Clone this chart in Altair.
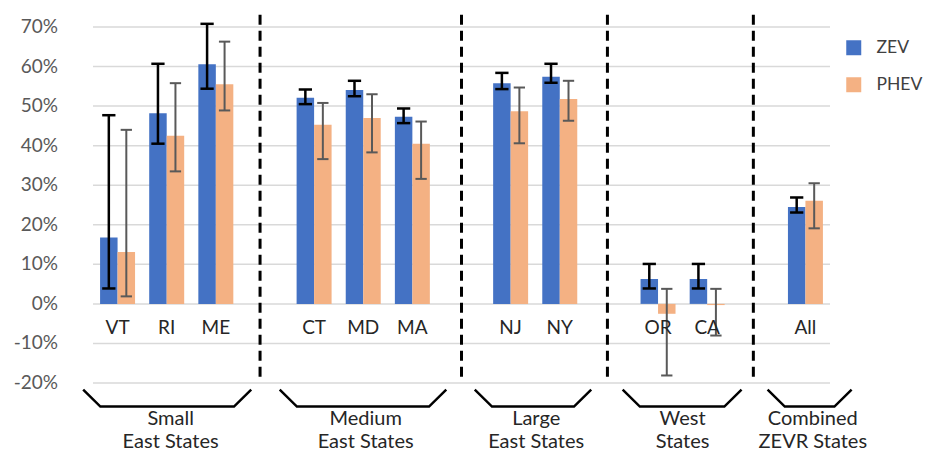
import altair as alt
import pandas as pd

# ---- data ----
states = ["VT", "RI", "ME", "CT", "MD", "MA", "NJ", "NY", "OR", "CA", "All"]
slots = [0, 1, 2, 4, 5, 6, 8, 9, 11, 12, 14]
divider_slots = [2.9, 7.0, 9.97, 12.94]

zev = [0.168, 0.482, 0.606, 0.521, 0.541, 0.473, 0.558, 0.574, 0.063, 0.063, 0.245]
zev_lo = [0.039, 0.405, 0.544, 0.505, 0.525, 0.457, 0.543, 0.559, 0.039, 0.039, 0.231]
zev_hi = [0.477, 0.607, 0.708, 0.542, 0.564, 0.494, 0.584, 0.607, 0.101, 0.101, 0.269]

phev = [0.131, 0.425, 0.555, 0.453, 0.470, 0.405, 0.487, 0.518, -0.025, -0.003, 0.261]
phev_lo = [0.019, 0.335, 0.489, 0.366, 0.383, 0.316, 0.406, 0.463, -0.181, -0.080, 0.191]
phev_hi = [0.440, 0.558, 0.663, 0.508, 0.530, 0.461, 0.547, 0.564, 0.038, 0.038, 0.305]

groups_line1 = ["Small", "Medium", "Large", "West", "Combined"]
groups_line2 = ["East States", "East States", "East States", "States", "ZEVR States"]
bracket_left = [-0.70, 3.30, 7.27, 10.28, 13.23]
bracket_right = [2.72, 6.69, 9.64, 12.70, 14.94]
label_center = [1.08, 5.05, 8.52, 11.5, 14.15]

y_ticks = [-0.2, -0.1, 0.0, 0.1, 0.2, 0.3, 0.4, 0.5, 0.6, 0.7]

# ---- tables ----
rows = []
for i, s in enumerate(states):
    rows.append(dict(state=s, slot=slots[i], series="ZEV", value=zev[i], lo=zev_lo[i], hi=zev_hi[i]))
    rows.append(dict(state=s, slot=slots[i], series="PHEV", value=phev[i], lo=phev_lo[i], hi=phev_hi[i]))
df = pd.DataFrame(rows)
lab_df = pd.DataFrame(dict(state=states, slot=slots))
gap_df = pd.DataFrame(dict(slot=divider_slots))
tick_df = pd.DataFrame(dict(v=y_ticks))

SLANT = 0.35
br_rows = []
for g in range(len(groups_line1)):
    L, R = bracket_left[g], bracket_right[g]
    pts = [(L, "top"), (L + SLANT, "bot"), (R - SLANT, "bot"), (R, "top")]
    for k, (xx, lvl) in enumerate(pts):
        br_rows.append(dict(g=g, k=k, bx=xx, lvl=lvl))
br_df = pd.DataFrame(br_rows)
grp_df = pd.DataFrame(dict(l1=groups_line1, l2=groups_line2, cx=label_center))

BW = 0.356
FONT = "Lato"

xs = alt.Scale(domain=[-0.5, 14.5], nice=False, zero=False)
ys = alt.Scale(domain=[-0.2, 0.7], nice=False, zero=False)


def X(field):
    return alt.X(field, scale=xs, axis=None)


def Y(field):
    return alt.Y(field, scale=ys, axis=None)


def YD(v):
    return alt.YDatum(v, scale=ys, axis=None)


# gridlines and y tick labels drawn from the tick list through the y scale
grid = alt.Chart(tick_df).mark_rule(color="#d9d9d9", strokeWidth=1.5).encode(
    x=alt.XDatum(-0.5, scale=xs, axis=None), x2=alt.datum(14.5), y=Y("v:Q"))
ylabels = alt.Chart(tick_df).transform_calculate(
    t="replace(format(datum.v, '.0%'), '\u2212', '-')"
).mark_text(align="right", baseline="middle", fontSize=19, font=FONT, color="#595959", dx=-35).encode(
    x=alt.XDatum(-0.5, scale=xs, axis=None), y=Y("v:Q"), text="t:N")

base = alt.Chart(df).transform_calculate(
    xl=f"datum.slot + (datum.series == 'ZEV' ? -{BW} : 0)",
).transform_calculate(
    xr=f"datum.xl + {BW}", xc=f"datum.xl + {BW / 2}"
)

bars = base.mark_bar().encode(
    x=X("xl:Q"),
    x2="xr:Q",
    y=Y("value:Q"),
    y2=alt.datum(0),
    color=alt.Color("series:N", scale=alt.Scale(domain=["ZEV", "PHEV"], range=["#4472C4", "#F4B183"]),
                    legend=alt.Legend(title=None, orient="none", legendX=752, legendY=12,
                                      symbolType="square", symbolSize=225, symbolStrokeWidth=0,
                                      labelFontSize=17.5, labelFont=FONT, labelColor="#404040",
                                      labelOffset=14, rowPadding=18)),
)


def err_layers(series, color, width, cap):
    b = base.transform_filter(f"datum.series == '{series}'").transform_calculate(
        a=f"datum.xc - {cap}", b2=f"datum.xc + {cap}")
    v = b.mark_rule(color=color, strokeWidth=width).encode(
        x=X("xc:Q"), y=Y("lo:Q"), y2="hi:Q")
    c1 = b.mark_rule(color=color, strokeWidth=width).encode(
        x=X("a:Q"), x2="b2:Q", y=Y("hi:Q"))
    c2 = b.mark_rule(color=color, strokeWidth=width).encode(
        x=X("a:Q"), x2="b2:Q", y=Y("lo:Q"))
    return [v, c1, c2]


err = err_layers("ZEV", "#000000", 2.5, 0.135) + err_layers("PHEV", "#595959", 2, 0.115)

cat_labels = alt.Chart(lab_df).mark_text(fontSize=19, font=FONT, color="#262626", baseline="middle").encode(
    x=X("slot:Q"), y=YD(-0.06), text="state:N")

dashes = alt.Chart(gap_df).mark_rule(color="#000000", strokeWidth=3, strokeDash=[10, 6]).encode(
    x=X("slot:Q"), y=YD(0.731), y2=alt.datum(-0.192))

brackets = alt.Chart(br_df).transform_calculate(
    by="datum.lvl == 'top' ? -0.2166 : -0.2595"
).mark_line(color="#000000", strokeWidth=2.5).encode(
    x=X("bx:Q"), y=Y("by:Q"), detail="g:N", order="k:Q")

g1 = alt.Chart(grp_df).mark_text(fontSize=20, font=FONT, color="#262626", baseline="alphabetic").encode(
    x=X("cx:Q"), y=YD(-0.3058), text="l1:N")
g2 = alt.Chart(grp_df).mark_text(fontSize=20, font=FONT, color="#262626", baseline="alphabetic").encode(
    x=X("cx:Q"), y=YD(-0.3632), text="l2:N")

chart = alt.layer(grid, ylabels, bars, *err, cat_labels, dashes, brackets, g1, g2).properties(
    width=737, height=356,
    autosize=alt.AutoSizeParams(type="none"),
    padding={"left": 85, "top": 19, "right": 96, "bottom": 69},
).configure_view(stroke=None)

chart.save("out.html", embed_options={"renderer": "svg", "actions": False})
